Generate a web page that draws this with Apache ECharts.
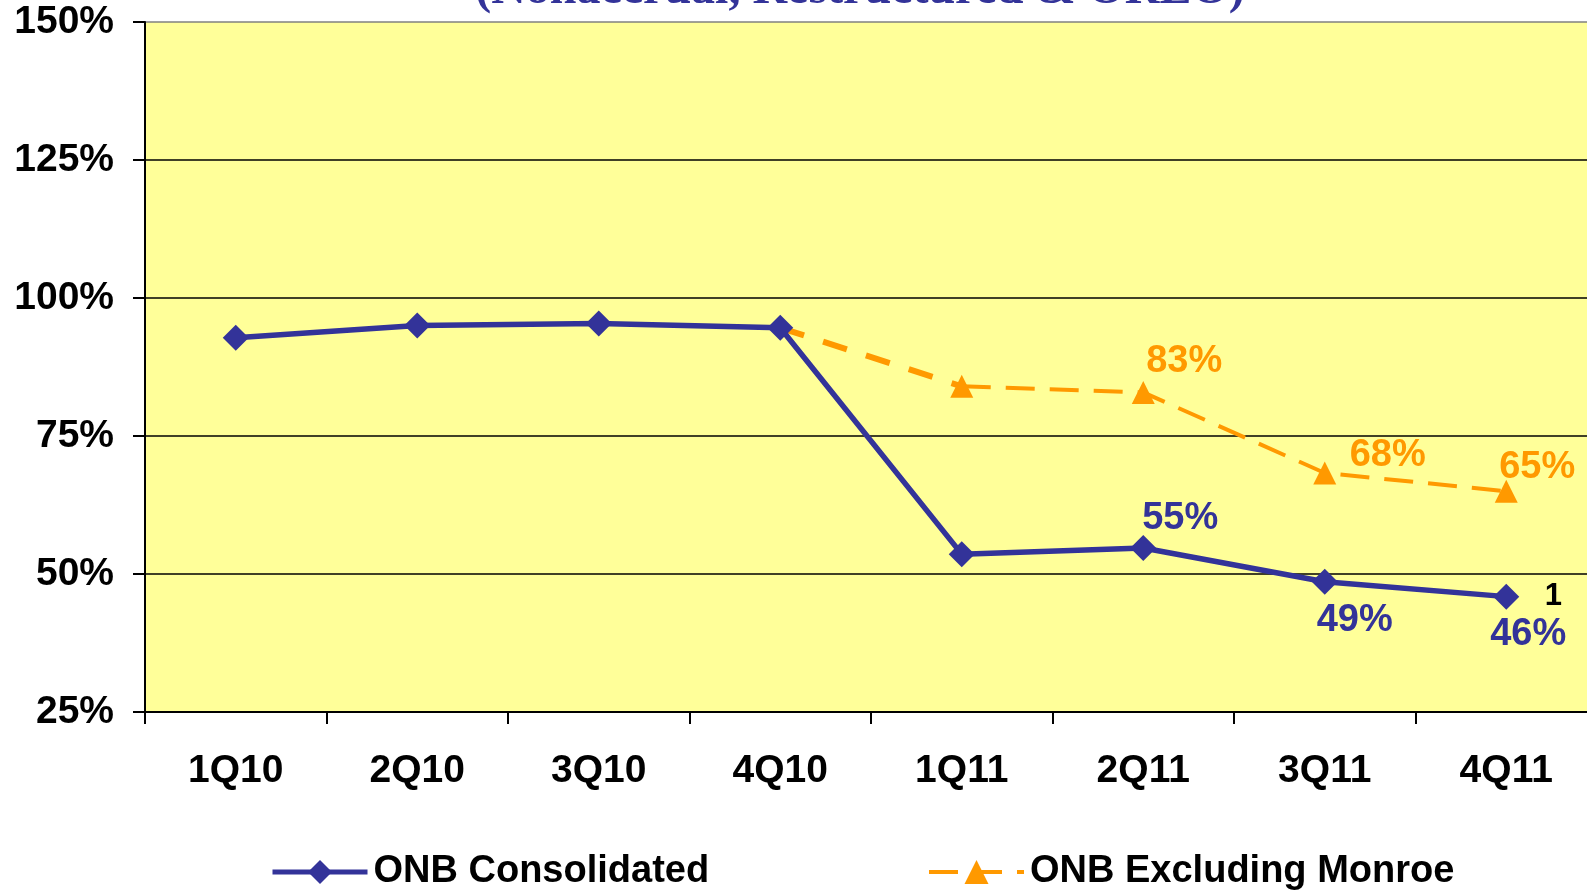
<!DOCTYPE html>
<html>
<head>
<meta charset="utf-8">
<script src="https://cdn.jsdelivr.net/npm/echarts@6/dist/echarts.min.js"></script>
<style>
  html, body { margin: 0; padding: 0; background: #fff; overflow: hidden; }
  /* the plot runs past the right edge of the slide, so the canvas is a bit wider than the window */
  #main { width: 1597px; height: 890px; }
</style>
</head>
<body>
<div id="main"></div>
<script>
const quarters = ["1Q10", "2Q10", "3Q10", "4Q10", "1Q11", "2Q11", "3Q11", "4Q11"];
const consolidated = [92.8, 95.0, 95.4, 94.6, 53.6, 54.7, 48.6, 45.9];
const exMonroe = [null, null, null, 94.6, 84.0, 82.9, 68.3, 65.0];
const yTicks = { min: 25, max: 150, step: 25 };
const footnote = "1";

const FONT = '"Liberation Sans", Arial, sans-serif';
const BLUE = "#333399";
const ORANGE = "#FF9900";

const pct = v => Math.round(v) + "%";

// only a few points carry a value label, as in the slide
const blueLabels = { 5: [37, -30], 6: [30, 39], 7: [22, 38] };
const orangeLabels = { 5: [41, -31], 6: [63, -17], 7: [31, -24] };

const labelled = (values, offsets, color) => values.map((v, i) => {
  if (v == null || !offsets[i]) return v;
  return {
    value: v,
    label: {
      show: true,
      position: "inside",
      offset: offsets[i],
      formatter: pct(v),
      color: color,
      fontFamily: FONT,
      fontWeight: "bold",
      fontSize: 38
    }
  };
});

// dashed link from 4Q10 to 1Q11 is drawn heavier in the original
const bridge = exMonroe.map((v, i) => (i <= 4 ? v : null));
const exMain = exMonroe.map((v, i) => (i >= 4 ? v : null));

const legendText = {
  fontFamily: FONT,
  fontWeight: "bold",
  fontSize: 38,
  color: "#000",
  padding: [0, 0, 0, 1]
};

const chart = echarts.init(document.getElementById("main"));
chart.setOption({
  animation: false,
  backgroundColor: "#fff",
  graphic: [{
    type: "text",
    x: 860,
    y: 15,
    style: {
      text: "(Nonaccrual, Restructured & OREO)",
      align: "center",
      verticalAlign: "bottom",
      font: 'bold 48px "Liberation Serif", "Times New Roman", serif',
      fill: BLUE
    }
  }],
  grid: {
    left: 145,
    top: 22,
    bottom: 178,
    right: 0,
    show: true,
    backgroundColor: "#FFFF99",
    borderWidth: 0
  },
  legend: [
    {
      data: ["ONB Consolidated"],
      left: 270,
      top: 853,
      padding: 0,
      itemWidth: 95,
      itemHeight: 30,
      lineStyle: { width: 5 },
      textStyle: legendText
    },
    {
      data: ["ONB Excluding Monroe"],
      left: 927,
      top: 853,
      padding: 0,
      itemWidth: 95,
      itemHeight: 30,
      lineStyle: { width: 4 },
      textStyle: legendText
    }
  ],
  xAxis: {
    type: "category",
    data: quarters,
    boundaryGap: true,
    axisLine: { lineStyle: { color: "#000", width: 2 } },
    axisTick: { show: true, length: 12, lineStyle: { color: "#000", width: 2 } },
    axisLabel: {
      margin: 40,
      fontFamily: FONT,
      fontWeight: "bold",
      fontSize: 39,
      color: "#000"
    }
  },
  yAxis: {
    type: "value",
    min: yTicks.min,
    max: yTicks.max,
    interval: yTicks.step,
    axisLine: { show: true, lineStyle: { color: "#000", width: 2 } },
    axisTick: { show: true, length: 12, lineStyle: { color: "#000", width: 2 } },
    splitLine: {
      lineStyle: {
        color: ["#000", "#000", "#000", "#000", "#000", "#808080"],
        width: 1.5
      }
    },
    axisLabel: {
      margin: 31,
      formatter: "{value}%",
      fontFamily: FONT,
      fontWeight: "bold",
      fontSize: 39,
      color: "#000"
    }
  },
  series: [
    {
      name: "bridge",
      type: "line",
      data: bridge,
      symbol: "none",
      z: 2,
      lineStyle: { color: ORANGE, width: 6, type: [25, 20] },
      itemStyle: { color: ORANGE }
    },
    {
      name: "ONB Excluding Monroe",
      type: "line",
      data: labelled(exMain, orangeLabels, ORANGE),
      symbol: "triangle",
      symbolSize: 23,
      z: 3,
      lineStyle: { color: ORANGE, width: 4, type: [29, 15] },
      itemStyle: { color: ORANGE }
    },
    {
      name: "ONB Consolidated",
      type: "line",
      data: labelled(consolidated, blueLabels, BLUE),
      symbol: "diamond",
      symbolSize: 26,
      z: 4,
      lineStyle: { color: BLUE, width: 5.5 },
      itemStyle: { color: BLUE },
      markPoint: {
        symbol: "circle",
        symbolSize: 1,
        itemStyle: { color: "rgba(0,0,0,0)" },
        data: [{ coord: [quarters.length - 1, consolidated[consolidated.length - 1]] }],
        label: {
          show: true,
          formatter: footnote,
          offset: [47, 0],
          color: "#000",
          fontFamily: FONT,
          fontWeight: "bold",
          fontSize: 31
        }
      }
    }
  ]
});
</script>
</body>
</html>
